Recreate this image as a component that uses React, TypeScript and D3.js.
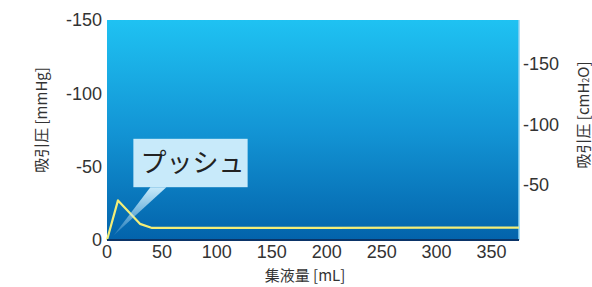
import * as d3 from "d3";
import React from "react";

// collected volume [mL] vs suction pressure [mmHg]
const volumes = [0, 10, 30, 41, 100, 200, 300, 375];
const pressures = [0, -27, -11, -8.2, -8.2, -8.3, -8.5, -8.5];

const xTicks = [0, 50, 100, 150, 200, 250, 300, 350];
const leftTicks = [0, -50, -100, -150];
const rightTicks = [-50, -100, -150];

const calloutText = "プッシュ";
const xTitle = "集液量 [mL]";
const leftTitle = "吸引圧 [mmHg]";

const W = 592;
const H = 287;
const margin = { top: 20, right: 73, bottom: 47, left: 107 };

const numFont = "'Liberation Sans', Arial, sans-serif";
const cjkFont = "'Noto Sans CJK JP', 'Noto Sans', sans-serif";

export default function App() {
  const innerW = W - margin.left - margin.right;
  const innerH = H - margin.top - margin.bottom;

  const x = d3.scaleLinear().domain([0, 375]).range([margin.left, margin.left + innerW]);
  const y = d3.scaleLinear().domain([0, -150]).range([margin.top + innerH, margin.top]);
  // cmH2O scale on the right, as printed
  const yR = d3.scaleLinear().domain([0, -186]).range([margin.top + innerH + 5, margin.top]);

  const pts = volumes.map((v, i) => [v, pressures[i]] as [number, number]);
  const line = d3
    .line<[number, number]>()
    .x((d) => x(d[0]))
    .y((d) => y(d[1]));

  const bottom = margin.top + innerH;
  const right = margin.left + innerW;

  // callout box
  const bx0 = x(24);
  const bx1 = x(128);
  const by0 = y(-69);
  const by1 = y(-36);
  const tip: [number, number] = [x(6), y(-3)];

  return (
    <div style={{ position: "absolute", left: 0, top: 0, width: W, height: H, overflow: "hidden" }}>
      <svg width={W} height={H} style={{ display: "block" }}>
        <defs>
          <linearGradient id="bg" x1="0" x2="0" y1="0" y2="1">
            <stop offset="0%" stopColor="#1fc2f2" />
            <stop offset="50%" stopColor="#1395d5" />
            <stop offset="100%" stopColor="#0363ab" />
          </linearGradient>
          <linearGradient id="ptr" x1="0" x2="0" y1="0" y2="1">
            <stop offset="0%" stopColor="#c8eafa" stopOpacity={1} />
            <stop offset="100%" stopColor="#c8eafa" stopOpacity={0.15} />
          </linearGradient>
        </defs>

        <rect x={margin.left} y={margin.top} width={innerW} height={innerH} fill="url(#bg)" />
        <line x1={right} x2={right} y1={margin.top} y2={bottom} stroke="#8fd3f3" strokeWidth={1.5} />

        <path d={line(pts) ?? ""} fill="none" stroke="#f3ee78" strokeWidth={2.2} strokeLinejoin="round" />

        <line x1={margin.left} x2={right} y1={bottom} y2={bottom} stroke="#0b3468" strokeWidth={2} />

        {/* callout */}
        <polygon
          points={`${bx0 + 17},${by1} ${bx0 + 33},${by1} ${tip[0]},${tip[1]}`}
          fill="url(#ptr)"
        />
        <rect x={bx0} y={by0} width={bx1 - bx0} height={by1 - by0} fill="#c8eafa" />
        <text
          x={(bx0 + bx1) / 2 + 2}
          y={by1 - 15}
          textAnchor="middle"
          fontFamily={cjkFont}
          fontSize={26}
          fontWeight={400}
          fill="#222"
        >
          {calloutText}
        </text>

        {/* left axis */}
        {leftTicks.map((t) => (
          <text
            key={"l" + t}
            x={margin.left - 5}
            y={y(t)}
            dy="0.36em"
            textAnchor="end"
            fontFamily={numFont}
            fontSize={18}
            fill="#333"
          >
            {t}
          </text>
        ))}
        {/* right axis */}
        {rightTicks.map((t) => (
          <text
            key={"r" + t}
            x={right + 4}
            y={yR(t)}
            dy="0.36em"
            textAnchor="start"
            fontFamily={numFont}
            fontSize={18}
            fill="#333"
          >
            {t}
          </text>
        ))}
        {/* x axis */}
        {xTicks.map((t) => (
          <text
            key={"x" + t}
            x={x(t)}
            y={bottom + 12}
            dy="0.36em"
            textAnchor="middle"
            fontFamily={numFont}
            fontSize={18}
            fill="#333"
          >
            {t}
          </text>
        ))}

        <text
          x={305}
          y={276}
          dy="0.36em"
          textAnchor="middle"
          fontFamily={cjkFont}
          fontSize={15}
          fill="#333"
        >
          {xTitle}
        </text>
        <text
          transform={`translate(42,120) rotate(-90)`}
          dy="0.36em"
          textAnchor="middle"
          fontFamily={cjkFont}
          fontSize={15}
          fill="#333"
        >
          {leftTitle}
        </text>
        <text
          transform={`translate(584,115) rotate(-90)`}
          dy="0.36em"
          textAnchor="middle"
          fontFamily={cjkFont}
          fontSize={15}
          fill="#333"
        >
          吸引圧 [cmH<tspan fontSize={9}>2</tspan>O]
        </text>
      </svg>
    </div>
  );
}
